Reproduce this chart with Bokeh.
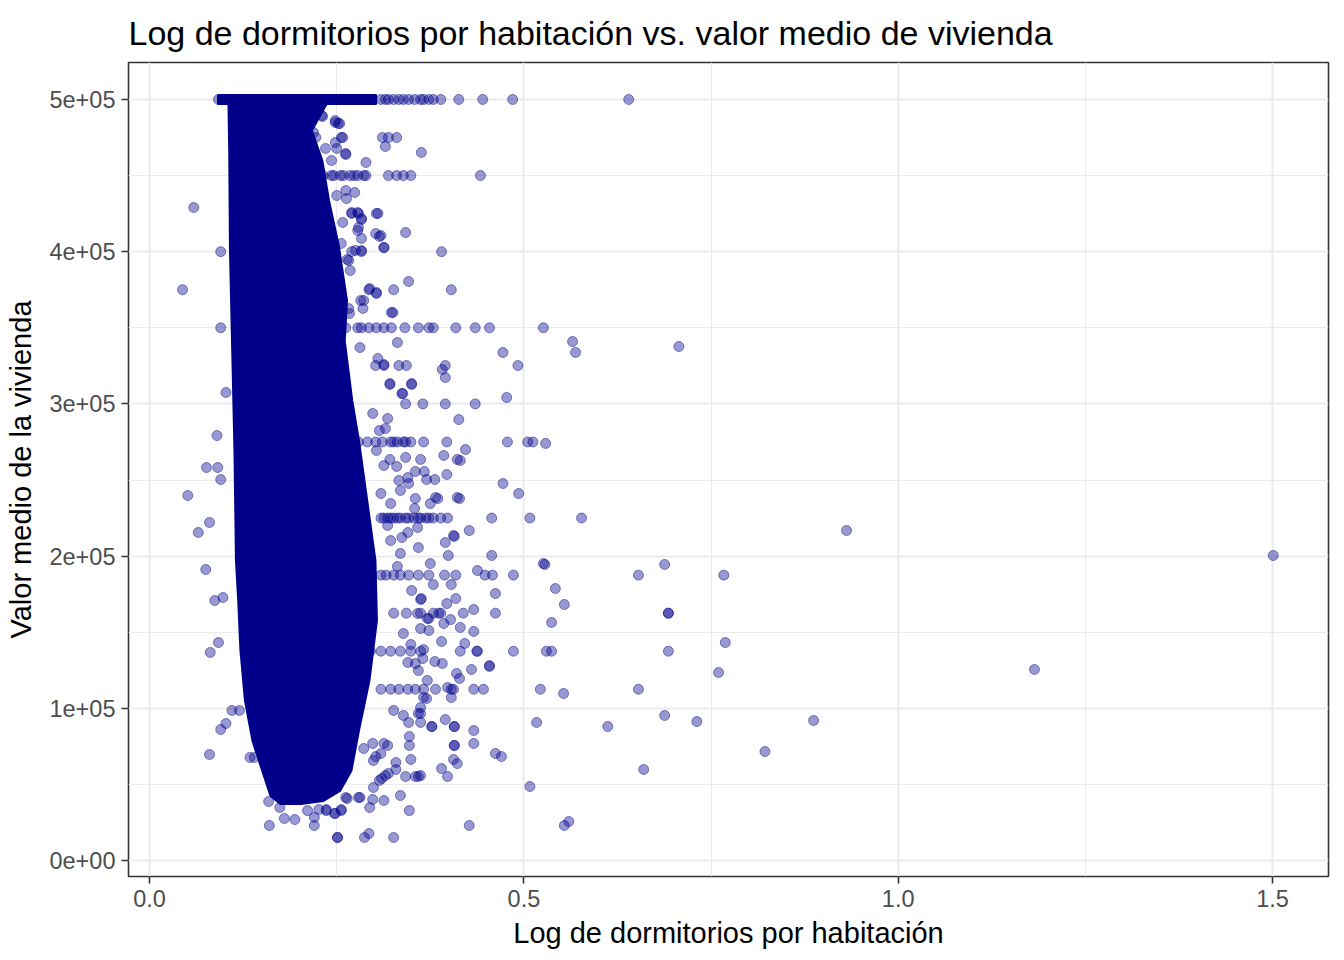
from bokeh.plotting import figure
from bokeh.models import Range1d, FixedTicker
from bokeh.embed import file_html
from bokeh.resources import INLINE

# ---- data ----
# dense core of the cloud (outline of the solid region): x, y
core_x = [0.092, 0.302, 0.302, 0.236, 0.216, 0.230, 0.239, 0.252, 0.263, 0.260, 0.270, 0.279,
          0.290, 0.301, 0.303, 0.293, 0.279, 0.269, 0.254, 0.232, 0.202, 0.175, 0.162,
          0.151, 0.138, 0.128, 0.122, 0.119, 0.116, 0.114, 0.111, 0.108, 0.107, 0.106, 0.092]
core_y = [502600, 502600, 497300, 497300, 479600, 459900, 433600, 404100, 367900, 341600, 302200, 275900,
          236500, 197100, 157700, 118300, 85400, 59100, 46000, 39400, 37400, 37400, 42700,
          59100, 78800, 105100, 138000, 170800, 197100, 269400, 335100, 400800, 466500, 497300, 497300]

# capped / rounded value rows (x values at a fixed house value)
row_500k_x = [0.092, 0.098, 0.309, 0.315, 0.319, 0.326, 0.333, 0.339, 0.346, 0.354, 0.362, 0.366,
              0.373, 0.379, 0.389, 0.413, 0.445, 0.485, 0.640]
row_450k_x = [0.202, 0.215, 0.219, 0.228, 0.232, 0.243, 0.246, 0.255, 0.259, 0.268, 0.273, 0.278,
              0.286, 0.289, 0.319, 0.330, 0.339, 0.349, 0.442]
row_350k_x = [0.243, 0.262, 0.278, 0.283, 0.293, 0.303, 0.313, 0.323, 0.341, 0.359, 0.373, 0.379,
              0.409, 0.435, 0.454, 0.526]
row_300k_x = [0.342, 0.365, 0.395, 0.435]
row_275k_x = [0.279, 0.291, 0.302, 0.311, 0.322, 0.326, 0.331, 0.339, 0.342, 0.349, 0.366, 0.397,
              0.478, 0.505, 0.512]
row_225k_x = [0.309, 0.313, 0.318, 0.322, 0.326, 0.331, 0.335, 0.342, 0.346, 0.353, 0.359, 0.362,
              0.369, 0.373, 0.379, 0.389, 0.398, 0.457, 0.508, 0.577]
row_1875_x = [0.309, 0.316, 0.326, 0.335, 0.346, 0.359, 0.373, 0.394, 0.409, 0.448, 0.458, 0.486,
              0.653, 0.767]
row_1625_x = [0.326, 0.343, 0.362, 0.379, 0.386, 0.389, 0.419, 0.462, 0.693, 0.693]
row_1375_x = [0.295, 0.309, 0.322, 0.335, 0.349, 0.362, 0.415, 0.437, 0.438, 0.486, 0.530, 0.537, 0.693]
row_1125_x = [0.309, 0.322, 0.333, 0.345, 0.355, 0.366, 0.382, 0.403, 0.406, 0.433, 0.446, 0.522, 0.653]

# other scattered houses
pts_x = [0.311, 0.319, 0.330, 0.315, 0.363, 0.289, 0.305, 0.342, 0.313, 0.390, 0.346, 0.326,
         0.403, 0.303, 0.325, 0.331, 0.343, 0.333, 0.395, 0.391, 0.395,
         0.230, 0.248, 0.254, 0.256, 0.262, 0.243, 0.222, 0.219, 0.235, 0.250, 0.262, 0.250,
         0.270, 0.279, 0.283, 0.303, 0.279, 0.302, 0.309, 0.313, 0.283, 0.275, 0.266, 0.256,
         0.268, 0.239, 0.293, 0.303, 0.286, 0.323, 0.266,
         0.565, 0.569, 0.707, 0.472, 0.492, 0.302, 0.313, 0.321, 0.350, 0.337,
         0.477, 0.350, 0.321, 0.338, 0.413, 0.529, 0.422, 0.415, 0.393, 0.397, 0.472, 0.493,
         0.414, 0.427, 0.407, 0.395, 0.457, 0.399, 0.528, 0.688, 0.438, 0.542, 0.554, 0.462,
         0.409, 0.397, 0.433, 0.931, 0.362, 0.342, 0.330, 0.355, 0.367, 0.370, 0.381, 0.385,
         0.375, 0.355, 0.354, 0.359, 0.375, 0.526,
         0.537, 0.769, 0.760, 0.553, 0.688, 0.731, 0.612, 0.517, 0.660, 0.508, 0.554, 0.560,
         0.427, 0.326, 0.287, 0.293, 0.251, 0.251, 0.454, 0.433, 0.430, 0.433, 0.433, 0.462,
         0.470, 0.407, 0.407, 0.407, 0.407, 0.406, 0.411, 0.390, 0.398, 0.395, 0.347, 0.335,
         0.313, 0.294, 0.822, 0.887, 1.182, 1.501,
         0.363, 0.373, 0.402, 0.393, 0.415, 0.390, 0.421, 0.454, 0.410, 0.414, 0.403, 0.366,
         0.362, 0.362, 0.377, 0.347, 0.347, 0.359, 0.349, 0.329, 0.329, 0.319, 0.310, 0.299,
         0.298, 0.281, 0.262, 0.256, 0.247, 0.236,
         0.159, 0.160, 0.174, 0.180, 0.194, 0.220, 0.220,
         0.075, 0.087, 0.098, 0.081, 0.092, 0.102, 0.095, 0.080, 0.110, 0.120, 0.134, 0.140,
         0.044, 0.059, 0.051, 0.065, 0.080, 0.090, 0.076, 0.091, 0.095, 0.102, 0.095, 0.095,
         # fuzzy right edge of the core
         0.252, 0.248, 0.231, 0.258, 0.248, 0.262, 0.274, 0.263, 0.270, 0.278, 0.283, 0.258,
         0.278, 0.283, 0.307, 0.270, 0.283, 0.264, 0.294, 0.282, 0.285, 0.267,
         0.281, 0.305, 0.313, 0.298, 0.318, 0.315, 0.307, 0.303, 0.321, 0.411, 0.313, 0.345,
         0.333, 0.335, 0.346, 0.382, 0.411, 0.322, 0.309, 0.358, 0.318, 0.406, 0.322, 0.337,
         0.345, 0.335, 0.331,
         0.350, 0.362, 0.379, 0.403, 0.358, 0.371, 0.373, 0.362, 0.339, 0.349, 0.366, 0.365,
         0.355, 0.345, 0.359, 0.381, 0.391, 0.371, 0.370, 0.398, 0.362, 0.359, 0.326, 0.339,
         0.346, 0.377, 0.318, 0.313, 0.298, 0.286, 0.302, 0.309, 0.342, 0.355, 0.362, 0.315,
         0.307, 0.299, 0.279, 0.264, 0.256, 0.248, 0.236, 0.226, 0.211]
pts_y = [475000, 475000, 475000, 469100, 465200, 458600, 425100, 412600, 402700, 400000, 380400, 375000,
         375000, 372500, 360000, 340300, 325200, 325200, 325200, 322600, 317300,
         489500, 484900, 484200, 475000, 464500, 459900, 475000, 478300, 467800, 467800, 440200, 436900,
         425100, 425100, 421800, 425100, 415900, 411900, 410600, 402700, 400800, 400800, 394200, 405400,
         387600, 394200, 375000, 373200, 367900, 360000, 362600,
         341000, 333800, 337700, 333800, 325200, 325200, 325200, 313400, 313400, 306800,
         304200, 312700, 312700, 306800, 289700, 274000, 270000, 262800, 266100, 253600, 247700, 241100,
         237800, 216800, 212900, 208900, 200400, 200400, 194500, 194500, 190500, 178700, 168200, 175400,
         172100, 168800, 164900, 216800, 263500, 264800, 258900, 255600, 255600, 250300, 250300, 237800,
         234500, 237800, 231300, 205600, 195100, 195100,
         156400, 143200, 123500, 109700, 95300, 91300, 88000, 90700, 59800, 48600, 23000, 25600,
         23000, 15100, 15100, 17700, 15100, 15100, 128100, 150500, 125500, 85400, 76900, 70300,
         68300, 88000, 88000, 75600, 75600, 66400, 63700, 60400, 55200, 92600, 32800, 42700,
         39400, 34800, 71600, 92000, 125500, 200400,
         172100, 159000, 158300, 155700, 153100, 143900, 142600, 127500, 122900, 119600, 107100, 107100,
         96600, 90700, 88000, 81500, 75600, 55200, 66400, 64400, 59800, 57200, 53900, 65700,
         40100, 41400, 41400, 32800, 30900, 33500,
         38800, 23000, 34800, 27600, 26900, 28300, 23000,
         191200, 170800, 172800, 136700, 143200, 90000, 86100, 69600, 98600, 98600, 67700, 67700,
         375000, 429000, 239800, 215500, 222100, 279200, 258200, 258200, 250300, 307500, 400000, 350000,
         484200, 486200, 488800, 475000, 471700, 463800, 438900, 434900, 425700, 425700, 421100, 419200,
         413900, 408700, 410000, 400100, 400100, 394900, 375800, 367900, 362700, 359400,
         337000, 329800, 325900, 293700, 290400, 283800, 282500, 269400, 263500, 263500, 259500, 251600,
         249700, 243100, 247700, 238500, 238500, 234500, 241100, 218800, 220100, 213500, 210200, 212200,
         215500, 201700, 193200,
         177400, 171500, 181300, 181300, 162300, 159000, 151100, 152400, 149100, 141900, 138600, 132700,
         129400, 130100, 124800, 130700, 129400, 118300, 106400, 113700, 100500, 96600, 98600, 95300,
         90700, 88000, 75600, 76900, 76900, 73600, 68300, 70300, 55200, 55200, 55800, 55800,
         52600, 48000, 41400, 40700, 33500, 30900, 32800, 33500, 32800]

rows = [(row_500k_x, 500000), (row_450k_x, 450000), (row_350k_x, 350000), (row_300k_x, 300000),
        (row_275k_x, 275000), (row_225k_x, 225000), (row_1875_x, 187500), (row_1625_x, 162500),
        (row_1375_x, 137500), (row_1125_x, 112500)]

x_ticks = [0.0, 0.5, 1.0, 1.5]
x_tick_labels = ["0.0", "0.5", "1.0", "1.5"]
y_ticks = [0, 100000, 200000, 300000, 400000, 500000]
y_tick_labels = ["0e+00", "1e+05", "2e+05", "3e+05", "4e+05", "5e+05"]

all_x = list(pts_x)
all_y = list(pts_y)
for xs, yv in rows:
    all_x += xs
    all_y += [yv] * len(xs)

NAVY = "#00008B"
FONT = "Liberation Sans"

p = figure(width=1336, height=958, output_backend="svg", toolbar_location=None,
           x_range=Range1d(-0.0282, 1.5748), y_range=Range1d(-10500, 524300),
           min_border_left=128, min_border_right=8, min_border_top=62, min_border_bottom=82,
           background_fill_color="white", border_fill_color="white")

p.title.text = "Log de dormitorios por habitación vs. valor medio de vivienda"
p.title.text_font = FONT
p.title.text_font_size = "34px"
p.title.text_font_style = "normal"
p.title.text_color = "black"
p.title.align = "left"
p.title.standoff = 22

p.outline_line_color = "#333333"
p.outline_line_width = 1.6

p.xaxis.ticker = FixedTicker(ticks=x_ticks, minor_ticks=[0.25, 0.75, 1.25])
p.yaxis.ticker = FixedTicker(ticks=y_ticks, minor_ticks=[50000, 150000, 250000, 350000, 450000])
p.xaxis.major_label_overrides = dict(zip(x_ticks, x_tick_labels))
p.yaxis.major_label_overrides = dict(zip(y_ticks, y_tick_labels))

for ax in (p.xaxis, p.yaxis):
    ax.axis_line_color = None
    ax.major_tick_line_color = "#333333"
    ax.major_tick_line_width = 1.6
    ax.major_tick_out = 7
    ax.major_tick_in = 0
    ax.minor_tick_line_color = None
    ax.major_label_text_font = FONT
    ax.major_label_text_font_size = "23.5px"
    ax.major_label_text_color = "#4D4D4D"
    ax.axis_label_text_font = FONT
    ax.axis_label_text_font_size = "29px"
    ax.axis_label_text_font_style = "normal"
    ax.axis_label_text_color = "black"
    ax.major_label_standoff = 6

p.xaxis.axis_label = "Log de dormitorios por habitación"
p.yaxis.axis_label = "Valor medio de la vivienda"
p.xaxis.axis_label_standoff = 7
p.yaxis.axis_label_standoff = 9

for g in (p.xgrid, p.ygrid):
    g.grid_line_color = "#EBEBEB"
    g.grid_line_width = 2
    g.minor_grid_line_color = "#EBEBEB"
    g.minor_grid_line_width = 1

p.patch(core_x, core_y, fill_color=NAVY, line_color=NAVY, line_width=3, line_join="round")
p.scatter(all_x, all_y, size=10, fill_color=NAVY, fill_alpha=0.4,
          line_color=NAVY, line_alpha=0.45, line_width=1)

open("out.html", "w").write(file_html(p, INLINE))
